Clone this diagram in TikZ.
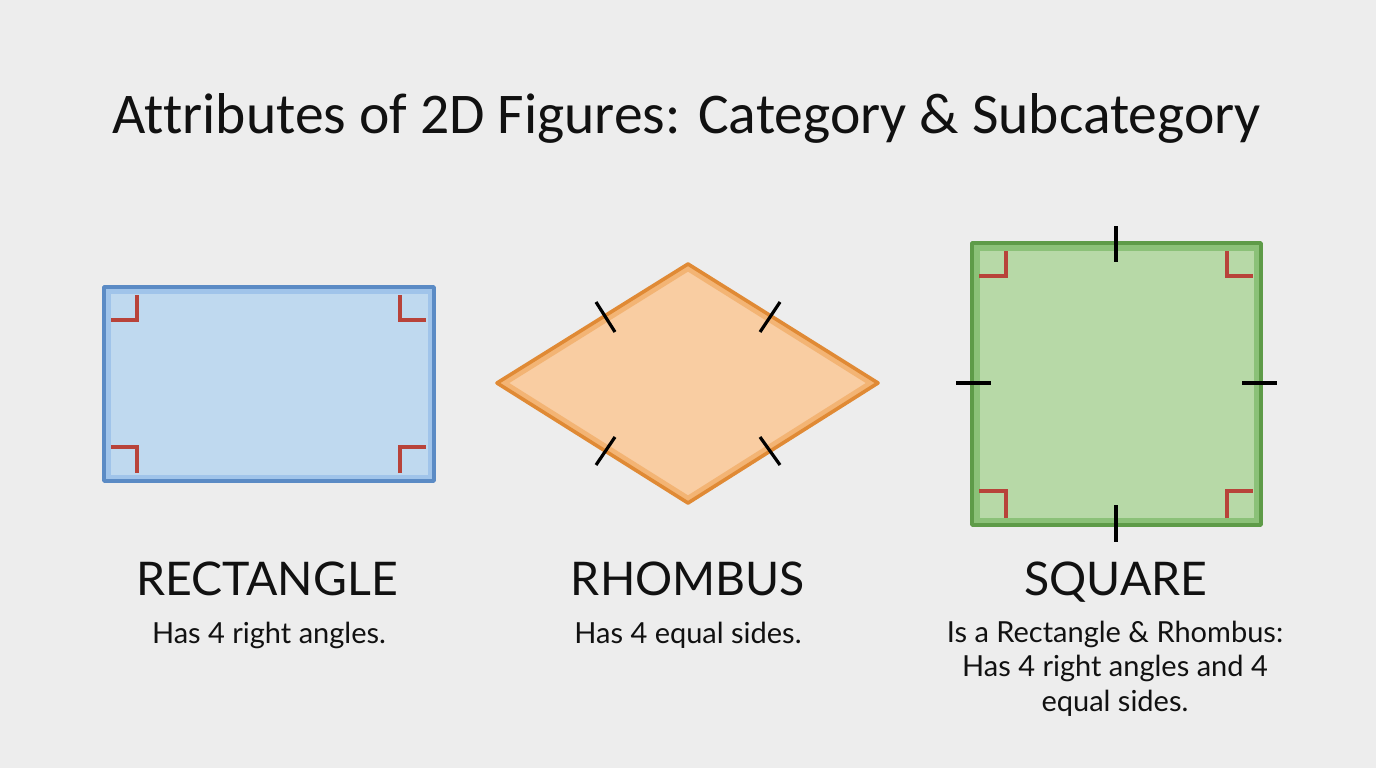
\documentclass[tikz,border=0pt]{standalone}
\usepackage{fontspec}
\setmainfont{Lato}
\newfontfamily\titlefont[Ligatures=NoCommon]{Carlito}
\definecolor{bgc}{HTML}{EDEDED}
\definecolor{bluebd}{HTML}{5B8BC5}
\definecolor{bluefill}{HTML}{BFD9EF}
\definecolor{blueband}{HTML}{A0C4EA}
\definecolor{orgbd}{HTML}{E08A35}
\definecolor{orgfill}{HTML}{F9CDA2}
\definecolor{orgband}{HTML}{F3B474}
\definecolor{grnbd}{HTML}{5E9B48}
\definecolor{grnfill}{HTML}{B7D9A7}
\definecolor{grnband}{HTML}{8BC178}
\definecolor{markred}{HTML}{B8433A}
\definecolor{txt}{HTML}{111111}
\tikzset{
  angmark/.style={draw=markred, line width=3.2pt},
  tickmark/.style={draw=black, line width=3.2pt},
  shapebd/.style={line width=3.6pt, line join=round},
  titletxt/.style={font=\titlefont\fontsize{57.6}{60}\selectfont, text=txt, anchor=base, inner sep=0pt},
  nametxt/.style={font=\fontsize{46.4}{50}\selectfont, text=txt, anchor=base, inner sep=0pt},
  desctxt/.style={font=\fontsize{29}{34.5}\selectfont, text=txt, anchor=base, inner sep=0pt, align=center},
}
\begin{document}
\begin{tikzpicture}[x=1pt,y=-1pt]
\fill[bgc] (0,0) rectangle (1376,768);
\useasboundingbox (0,0) rectangle (1376,768);

% title
\node[titletxt] (title) at (687,133) {Attributes of 2D Figures: Category \& Subcategory};

% ---------- rectangle ----------
\coordinate (r1) at (104,287);
\coordinate (r2) at (434,481);
\fill[bluefill] (r1) rectangle (r2);
\begin{scope}
  \clip (r1) rectangle (r2);
  \draw[blueband, line width=13pt] (r1) rectangle (r2);
\end{scope}
\draw[bluebd, shapebd] (r1) rectangle (r2);
\draw[angmark] (111,320) -- (137,320) -- (137,295);
\draw[angmark] (400,295) -- (400,320) -- (426,320);
\draw[angmark] (111,447) -- (137,447) -- (137,473);
\draw[angmark] (400,473) -- (400,447) -- (426,447);

% ---------- rhombus ----------
\coordinate (hl) at (497,383);
\coordinate (ht) at (688,264);
\coordinate (hr) at (878,383);
\coordinate (hb) at (688,503);
\fill[orgfill] (hl) -- (ht) -- (hr) -- (hb) -- cycle;
\begin{scope}
  \clip (hl) -- (ht) -- (hr) -- (hb) -- cycle;
  \draw[orgband, line width=13pt] (hl) -- (ht) -- (hr) -- (hb) -- cycle;
\end{scope}
\draw[orgbd, shapebd] (hl) -- (ht) -- (hr) -- (hb) -- cycle;
\draw[tickmark] (596,302) -- (615,332);
\draw[tickmark] (760,332) -- (780,302);
\draw[tickmark] (596,465) -- (615,437);
\draw[tickmark] (760,437) -- (780,465);

% ---------- square ----------
\coordinate (s1) at (972,243);
\coordinate (s2) at (1261,525);
\fill[grnfill] (s1) rectangle (s2);
\begin{scope}
  \clip (s1) rectangle (s2);
  \draw[grnband, line width=15pt] (s1) rectangle (s2);
\end{scope}
\draw[grnbd, shapebd] (s1) rectangle (s2);
\draw[angmark] (979,276) -- (1006,276) -- (1006,251);
\draw[angmark] (1227,251) -- (1227,276) -- (1253,276);
\draw[angmark] (979,491) -- (1006,491) -- (1006,518);
\draw[angmark] (1227,518) -- (1227,491) -- (1253,491);
\draw[tickmark] (1116,226) -- (1116,262);
\draw[tickmark] (1116,505) -- (1116,542);
\draw[tickmark] (956,383) -- (991,383);
\draw[tickmark] (1242,383) -- (1277,383);

% ---------- labels ----------
\node[nametxt] (n1) at (267,595) {RECTANGLE};
\node[nametxt] (n2) at (688,595) {RHOMBUS};
\node[nametxt] (n3) at (1116,595) {SQUARE};
\node[desctxt] (d1) at (269,643) {Has 4 right angles.};
\node[desctxt] (d2) at (688,643) {Has 4 equal sides.};
\node[desctxt] (d3) at (1115,711) {Is a Rectangle \& Rhombus:\\Has 4 right angles and 4\\equal sides.};
\end{tikzpicture}
\end{document}
